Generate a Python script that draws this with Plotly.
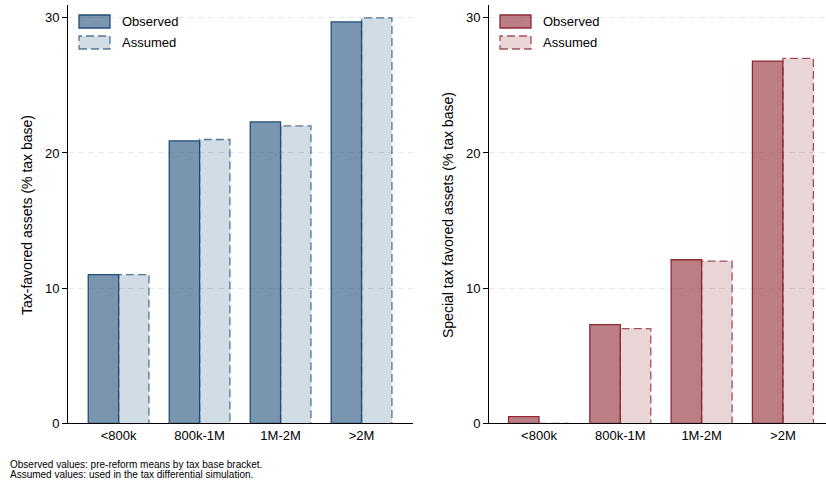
import plotly.graph_objects as go

# Tax base brackets
brackets = ["<800k", "800k-1M", "1M-2M", ">2M"]

# Tax-favored assets (% tax base)
tax_fav_observed = [11.0, 20.9, 22.3, 29.7]
tax_fav_assumed = [11.0, 21.0, 22.0, 30.0]

# Special tax favored assets (% tax base)
special_observed = [0.5, 7.3, 12.1, 26.8]
special_assumed = [0.0, 7.0, 12.0, 27.0]

notes = [
    "Observed values: pre-reform means by tax base bracket.",
    "Assumed values: used in the tax differential simulation.",
]

W, H = 826, 489
FONT = "Liberation Sans, Arial, sans-serif"
BAR_W = 0.375


def px_x(p):
    return p / W


def px_y(p):
    return 1 - p / H


blue = dict(line="rgb(31,78,121)", obs="rgba(31,78,121,0.6)", ass="rgba(31,78,121,0.2)",
            dash="rgba(31,78,121,0.75)")
red = dict(line="rgb(144,40,52)", obs="rgba(144,40,52,0.6)", ass="rgba(144,40,52,0.2)",
           dash="rgba(144,40,52,0.8)")

fig = go.Figure()


def add_panel(observed, assumed, col, xa, ya):
    pos = list(range(len(brackets)))
    x_obs = [p - BAR_W / 2 for p in pos]
    x_ass = [p + BAR_W / 2 for p in pos]
    fig.add_trace(go.Bar(
        x=x_obs, y=observed, width=BAR_W, name="Observed",
        marker=dict(color=col["obs"], line=dict(color=col["line"], width=1.3)),
        xaxis=xa, yaxis=ya, showlegend=False, hoverinfo="y"))
    fig.add_trace(go.Bar(
        x=x_ass, y=assumed, width=BAR_W, name="Assumed",
        marker=dict(color=col["ass"], line=dict(width=0)),
        xaxis=xa, yaxis=ya, showlegend=False, hoverinfo="y"))
    # dashed outline of the assumed bars
    for xc, v in zip(x_ass, assumed):
        x0, x1 = xc - BAR_W / 2, xc + BAR_W / 2
        fig.add_trace(go.Scatter(
            x=[x0, x0, x1, x1], y=[0, v, v, 0], mode="lines",
            line=dict(color=col["dash"], width=1.3, dash="8px,4px"),
            xaxis=xa, yaxis=ya, showlegend=False, hoverinfo="skip"))


add_panel(tax_fav_observed, tax_fav_assumed, blue, "x", "y")
add_panel(special_observed, special_assumed, red, "x2", "y2")

ydom = [px_y(423.3), px_y(5)]
yaxis_common = dict(
    range=[0, 30.95], tickvals=[0, 10, 20, 30], ticks="outside", ticklen=5,
    tickcolor="black", showline=True, linecolor="black", linewidth=1,
    showgrid=True, gridcolor="rgb(232,232,232)", griddash="6px,4px", gridwidth=1,
    zeroline=False, automargin=False,
    tickfont=dict(size=13, color="black", family=FONT), domain=ydom)
xaxis_common = dict(
    tickvals=[0, 1, 2, 3], ticktext=brackets, ticks="", showline=True,
    linecolor="black", linewidth=1, showgrid=False, zeroline=False, automargin=False,
    tickfont=dict(size=13, color="black", family=FONT))

fig.update_layout(
    width=W, height=H, margin=dict(l=0, r=0, t=0, b=0, autoexpand=False),
    paper_bgcolor="white", plot_bgcolor="white", barmode="overlay",
    font=dict(family=FONT, color="black"),
    xaxis=dict(xaxis_common, domain=[px_x(68), px_x(413)], range=[-0.625, 3.635], anchor="y"),
    yaxis=dict(yaxis_common, anchor="x"),
    xaxis2=dict(xaxis_common, domain=[px_x(489), 1.0], range=[-0.615, 3.53], anchor="y2"),
    yaxis2=dict(yaxis_common, anchor="x2"),
)

# axis titles
for xc, title in ((27, "Tax-favored assets (% tax base)"),
                  (448, "Special tax favored assets (% tax base)")):
    fig.add_annotation(x=px_x(xc), y=px_y(215), xref="paper", yref="paper",
                       xanchor="center", yanchor="middle",
                       text=title, textangle=-90, showarrow=False,
                       font=dict(size=14, color="black", family=FONT))

# legend keys for each panel
for left, col in ((79, blue), (500, red)):
    fig.add_shape(type="rect", xref="paper", yref="paper",
                  x0=px_x(left), x1=px_x(left + 31), y0=px_y(28), y1=px_y(15),
                  fillcolor=col["obs"], line=dict(color=col["line"], width=1.3))
    fig.add_shape(type="rect", xref="paper", yref="paper",
                  x0=px_x(left), x1=px_x(left + 31), y0=px_y(49), y1=px_y(36),
                  fillcolor=col["ass"], line=dict(color=col["dash"], width=1.3, dash="8px,4px"))
    for label, yc in (("Observed", 21.5), ("Assumed", 42.5)):
        fig.add_annotation(x=px_x(left + 41), y=px_y(yc), xref="paper", yref="paper",
                           text=label, showarrow=False, xanchor="left", yanchor="middle",
                           font=dict(size=13, color="black", family=FONT))

# note below the panels
for line, yc in zip(notes, (464.5, 474.5)):
    fig.add_annotation(
        x=px_x(8), y=px_y(yc), xref="paper", yref="paper", xanchor="left", yanchor="middle",
        align="left", showarrow=False, text=line,
        font=dict(size=10, color="black", family=FONT))

fig.write_html("out.html")
